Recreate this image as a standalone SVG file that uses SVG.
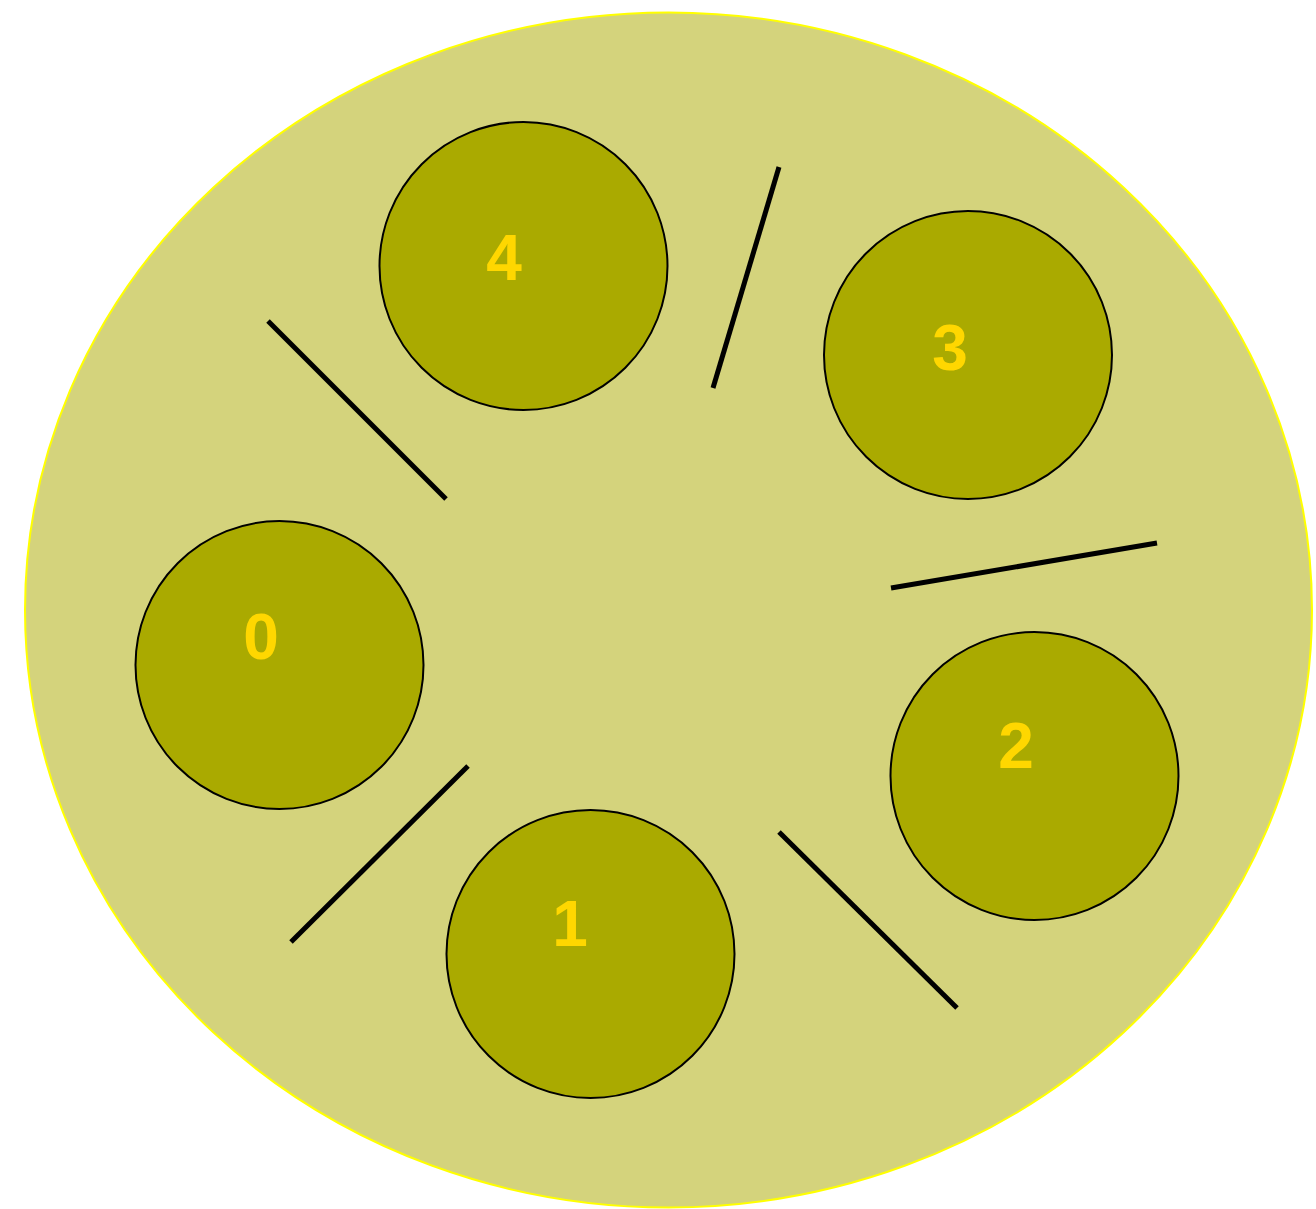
<svg xmlns="http://www.w3.org/2000/svg" width="1316" height="1209" viewBox="0 0 1316 1209">
<style>
.ph{fill:#aaaa00;stroke:#000;stroke-width:2}
.lb{font-family:"Liberation Sans",Arial,sans-serif;font-weight:bold;font-size:64px;fill:#ffd700;text-anchor:middle}
.fk{stroke:#000;stroke-width:5;stroke-linecap:butt}
</style>
<rect width="1316" height="1209" fill="#fff"/>
<g id="table"><ellipse cx="668.5" cy="610" rx="643.5" ry="597.5" fill="#d4d37c" stroke="#ffff00" stroke-width="2"/></g>
<g id="connectors">
<line class="fk" x1="268" y1="321" x2="446" y2="499"/>
<line class="fk" x1="779" y1="167" x2="713" y2="388"/>
<line class="fk" x1="891" y1="588" x2="1157" y2="543"/>
<line class="fk" x1="468" y1="766" x2="291" y2="942"/>
<line class="fk" x1="779" y1="832" x2="957" y2="1008"/>
</g>
<g id="p4"><circle class="ph" cx="523.5" cy="266" r="144"/><text class="lb" x="504" y="280">4</text></g>
<g id="p3"><circle class="ph" cx="968" cy="355" r="144"/><text class="lb" x="950" y="370">3</text></g>
<g id="p0"><circle class="ph" cx="279.5" cy="665" r="144"/><text class="lb" x="261" y="659">0</text></g>
<g id="p2"><circle class="ph" cx="1034.5" cy="776" r="144"/><text class="lb" x="1016" y="768">2</text></g>
<g id="p1"><circle class="ph" cx="590.5" cy="954" r="144"/><text class="lb" x="570" y="946">1</text></g>
</svg>
